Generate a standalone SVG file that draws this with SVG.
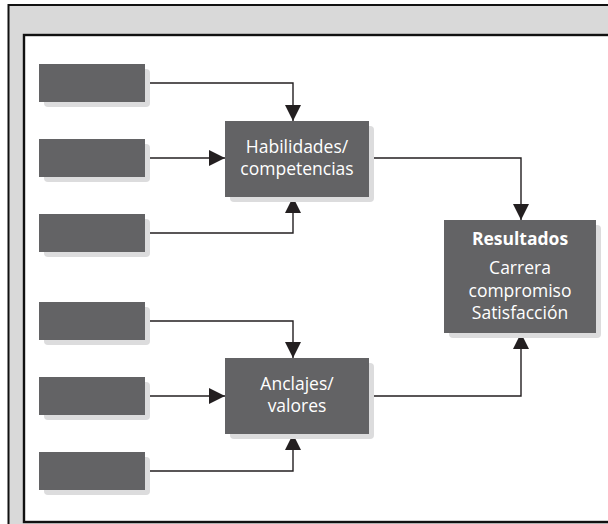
<svg xmlns="http://www.w3.org/2000/svg" width="608" height="524" viewBox="0 0 608 524">
  <defs>
    <style>
      .frame-outer { fill: #d9d9d9; stroke: #111; stroke-width: 2; }
      .frame-inner { fill: #ffffff; stroke: #111; stroke-width: 2.4; }
      .shadow { fill: #dcdcdd; }
      .box { fill: #636365; }
      .label { fill: #ffffff; font-family: "Open Sans", "Noto Sans", "DejaVu Sans", sans-serif; font-size: 17.5px; text-anchor: middle; }
      .bold { font-weight: bold; }
      .conn { fill: none; stroke: #231f20; stroke-width: 1.4; }
    </style>
    <marker id="arrow" viewBox="0 0 16 16" refX="16" refY="8" markerWidth="16" markerHeight="16" markerUnits="userSpaceOnUse" orient="auto">
      <path d="M0,0 L16,8 L0,16 Z" fill="#231f20"/>
    </marker>
  </defs>

  <!-- frame -->
  <rect class="frame-outer" x="8.5" y="5" width="620" height="540"/>
  <rect class="frame-inner" x="24" y="35" width="610" height="487"/>

  <!-- connectors -->
  <g id="connectors">
    <polyline class="conn" points="145,83 293,83 293,121" marker-end="url(#arrow)"/>
    <polyline class="conn" points="145,158 225,158" marker-end="url(#arrow)"/>
    <polyline class="conn" points="145,233 293,233 293,197" marker-end="url(#arrow)"/>
    <polyline class="conn" points="145,321 293,321 293,358" marker-end="url(#arrow)"/>
    <polyline class="conn" points="145,396 225,396" marker-end="url(#arrow)"/>
    <polyline class="conn" points="145,471 293,471 293,434" marker-end="url(#arrow)"/>
    <polyline class="conn" points="369,158 521,158 521,220" marker-end="url(#arrow)"/>
    <polyline class="conn" points="369,396 521,396 521,333" marker-end="url(#arrow)"/>
  </g>

  <!-- input boxes -->
  <g id="input1">
    <rect class="shadow" x="44" y="69" width="106" height="38" rx="4"/>
    <rect class="box" x="39" y="64" width="106" height="38"/>
  </g>
  <g id="input2">
    <rect class="shadow" x="44" y="144" width="106" height="38" rx="4"/>
    <rect class="box" x="39" y="139" width="106" height="38"/>
  </g>
  <g id="input3">
    <rect class="shadow" x="44" y="219" width="106" height="38" rx="4"/>
    <rect class="box" x="39" y="214" width="106" height="38"/>
  </g>
  <g id="input4">
    <rect class="shadow" x="44" y="307" width="106" height="38" rx="4"/>
    <rect class="box" x="39" y="302" width="106" height="38"/>
  </g>
  <g id="input5">
    <rect class="shadow" x="44" y="382" width="106" height="38" rx="4"/>
    <rect class="box" x="39" y="377" width="106" height="38"/>
  </g>
  <g id="input6">
    <rect class="shadow" x="44" y="457" width="106" height="38" rx="4"/>
    <rect class="box" x="39" y="452" width="106" height="38"/>
  </g>

  <!-- skills -->
  <g id="habilidades">
    <rect class="shadow" x="230" y="126" width="144" height="76" rx="4"/>
    <rect class="box" x="225" y="121" width="144" height="76"/>
    <text class="label" x="297" y="153">Habilidades/</text>
    <text class="label" x="297" y="175">competencias</text>
  </g>

  <!-- anchors -->
  <g id="anclajes">
    <rect class="shadow" x="230" y="363" width="144" height="76" rx="4"/>
    <rect class="box" x="225" y="358" width="144" height="76"/>
    <text class="label" x="297" y="390">Anclajes/</text>
    <text class="label" x="297" y="412">valores</text>
  </g>

  <!-- outcomes -->
  <g id="resultados">
    <rect class="shadow" x="449" y="225" width="152" height="113" rx="4"/>
    <rect class="box" x="444" y="220" width="152" height="113"/>
    <text class="label bold" x="520" y="245">Resultados</text>
    <text class="label" x="520" y="274">Carrera</text>
    <text class="label" x="520" y="296.5">compromiso</text>
    <text class="label" x="520" y="319">Satisfacción</text>
  </g>
</svg>
